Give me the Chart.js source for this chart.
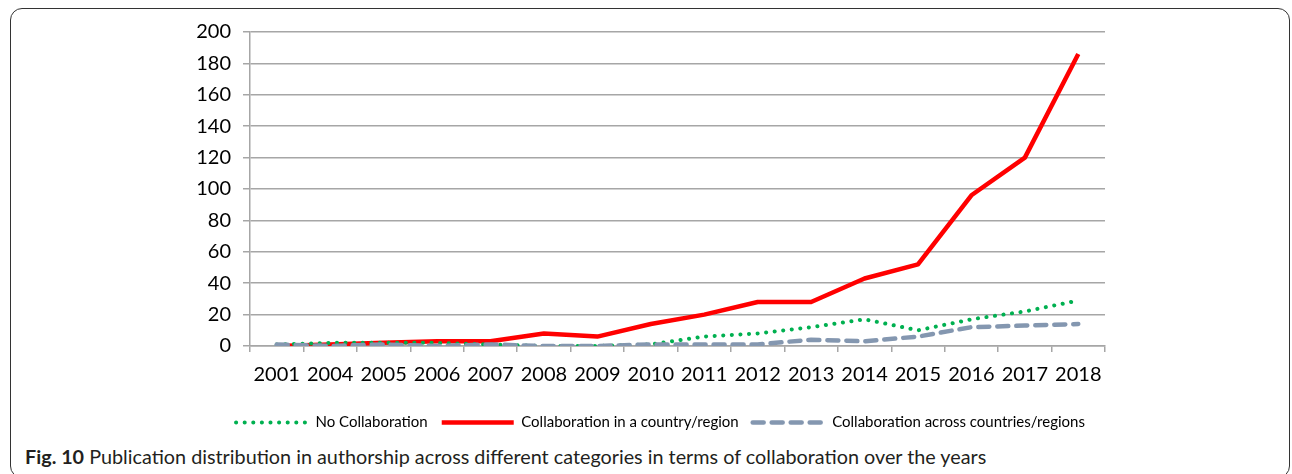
<!DOCTYPE html>
<html>
<head>
<meta charset="utf-8">
<script src="https://cdn.jsdelivr.net/npm/chart.js@4.4.1/dist/chart.umd.min.js"></script>
<style>
  html, body { margin: 0; padding: 0; background: #fff; }
  body { width: 1292px; height: 474px; position: relative; overflow: hidden; }
  .frame {
    position: absolute; left: 10px; top: 8px; width: 1280px; height: 470px;
    border: 1.5px solid #333; border-radius: 12px; box-sizing: border-box;
  }
  .chart-wrap { position: absolute; left: 0; top: 0; width: 1292px; height: 440px; }
  .caption {
    position: absolute; left: 25px; top: 444px;
    font-family: Lato, "Open Sans", sans-serif; font-size: 19.8px; color: #231f20;
    white-space: nowrap;
  }
  .caption b { font-weight: bold; }
</style>
</head>
<body>
<div class="frame"></div>
<div class="chart-wrap"><canvas id="collabChart"></canvas></div>
<div class="caption"><b>Fig. 10</b> Publication distribution in authorship across different categories in terms of collaboration over the years</div>

<script>
// Publications per year, by collaboration type
const years = ["2001", "2004", "2005", "2006", "2007", "2008", "2009", "2010",
  "2011", "2012", "2013", "2014", "2015", "2016", "2017", "2018"];
const noCollaboration = [1, 2, 2, 2, 1, 0, 0, 1, 6, 8, 12, 17, 10, 17, 22, 29];
const inCountry = [0, 1, 2, 3, 3, 8, 6, 14, 20, 28, 28, 43, 52, 96, 120, 186];
const acrossCountries = [1, 0, 1, 0, 1, 0, 0, 1, 1, 1, 4, 3, 6, 12, 13, 14];
const yTicks = [0, 20, 40, 60, 80, 100, 120, 140, 160, 180, 200];

const GRID = "#a6a6a6";
const FONT = "Lato, 'Open Sans', sans-serif";
const LEGEND_SHIFT = 33;

// legend samples should show the same dash/cap as the lines themselves
function legendLabels(chart) {
  const items = Chart.defaults.plugins.legend.labels.generateLabels(chart);
  items.forEach((it) => {
    const ds = chart.data.datasets[it.datasetIndex];
    it.lineDash = ds.borderDash || [];
    it.lineCap = ds.borderCapStyle || "butt";
    it.lineWidth = ds.borderWidth;
    it.strokeStyle = ds.borderColor;
    it.pointStyle = "line";
  });
  return items.sort((a, b) => a.datasetIndex - b.datasetIndex);
}

// centre the legend under the plot rather than under the padded box
const legendNudge = {
  id: "legendNudge",
  afterLayout(chart) {
    const lg = chart.legend;
    if (!lg) return;
    lg.left += LEGEND_SHIFT;
    lg.right += LEGEND_SHIFT;
  },
};

new Chart(document.getElementById("collabChart"), {
  type: "line",
  data: {
    labels: years,
    datasets: [
      {
        label: "No Collaboration",
        data: noCollaboration,
        borderColor: "#00b050",
        borderWidth: 4,
        borderDash: [0.1, 8.5],
        borderCapStyle: "round",
        order: 1,
      },
      {
        label: "Collaboration in a country/region",
        data: inCountry,
        borderColor: "#ff0000",
        borderWidth: 4.5,
        order: 2,
      },
      {
        label: "Collaboration across countries/regions",
        data: acrossCountries,
        borderColor: "#8497b0",
        borderWidth: 4.5,
        borderDash: [11, 8],
        borderCapStyle: "round",
        order: 0,
      },
    ],
  },
  plugins: [legendNudge],
  options: {
    responsive: true,
    maintainAspectRatio: false,
    animation: false,
    layout: { padding: { left: 150, right: 187, top: 32, bottom: 0 } },
    elements: {
      point: { radius: 0 },
      line: { tension: 0, borderJoinStyle: "round", fill: false },
    },
    plugins: {
      tooltip: { enabled: false },
      legend: {
        position: "bottom",
        labels: {
          usePointStyle: true,
          pointStyle: "line",
          pointStyleWidth: 72,
          color: "#000",
          font: { family: FONT, size: 15 },
          padding: 14,
          generateLabels: legendLabels,
        },
      },
    },
    scales: {
      x: {
        offset: true,
        grid: {
          offset: true,
          drawOnChartArea: false,
          drawTicks: true,
          tickLength: 6,
          color: GRID,
          lineWidth: 1.5,
        },
        border: { color: GRID, width: 1.5 },
        ticks: {
          color: "#000",
          font: { family: FONT, size: 20 },
          padding: 11,
          maxRotation: 0,
          autoSkip: false,
        },
        afterFit(scale) { scale.height = 55; },
      },
      y: {
        min: 0,
        max: 200,
        afterBuildTicks(scale) { scale.ticks = yTicks.map((v) => ({ value: v })); },
        grid: { color: GRID, lineWidth: 1.5, tickLength: 7 },
        border: { color: GRID, width: 1.5 },
        ticks: {
          color: "#000",
          font: { family: FONT, size: 20 },
          padding: 12,
        },
        afterFit(scale) { scale.width = 100; },
      },
    },
  },
});
</script>
</body>
</html>
